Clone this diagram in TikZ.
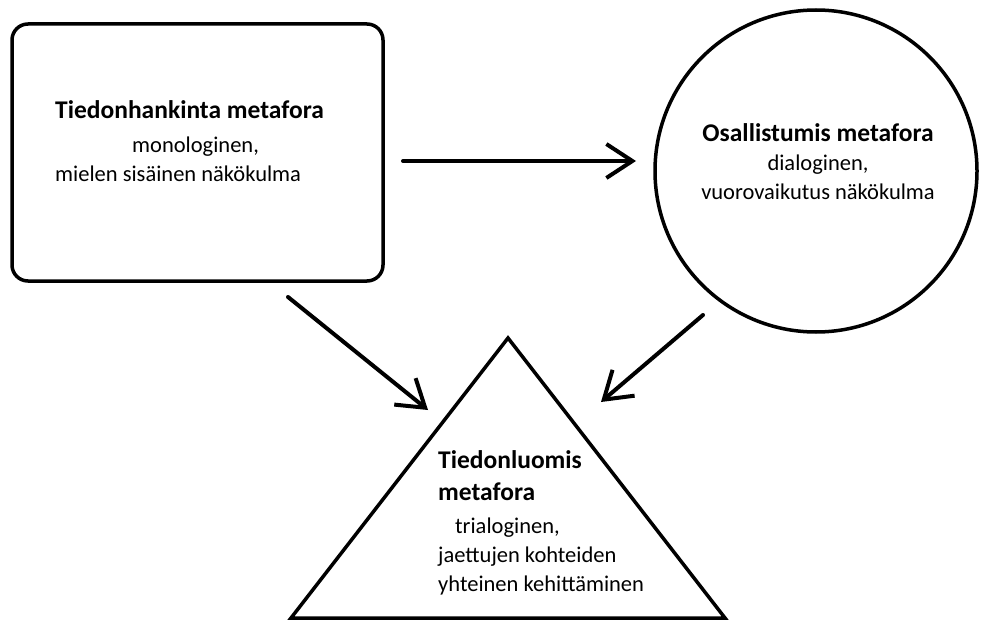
\documentclass[tikz,border=0pt]{standalone}
\usepackage{fontspec}
\setmainfont{Carlito}
\usetikzlibrary{arrows.meta,positioning,shapes.geometric}

\newcommand{\otsikko}[1]{{\fontsize{25.5}{30}\selectfont\bfseries #1}}

\tikzset{
  kuvio/.style={draw, line width=3.5pt},
  nuoli/.style={line width=4pt, line cap=round, line join=round, -{Straight Barb[length=26pt,width=34pt]}},
  teksti/.style={font=\fontsize{22.5}{29}\selectfont, inner sep=0pt},
}

\begin{document}
\begin{tikzpicture}[x=1pt,y=-1pt]
    \useasboundingbox (0,0) rectangle (982,623);

    % muodot
    \node[kuvio, rectangle, rounded corners=16pt, minimum width=371pt, minimum height=257pt] (hankinta) at (197.5,152.5) {};
    \node[kuvio, circle, minimum size=322pt] (osallistumis) at (816,171) {};
    \coordinate (huippu) at (508,338);
    \coordinate (vasen) at (291,618);
    \coordinate (oikea) at (725,618);
    \draw[kuvio] (huippu) -- (oikea) -- (vasen) -- cycle;

    % tekstit
    \node[teksti, align=left, anchor=north west] (hankintateksti) at (55,100) {\otsikko{Tiedonhankinta metafora}\\[5pt]\hspace*{77pt}monologinen,\\mielen sisäinen näkökulma};
    \node[teksti, align=center] (osallistumisteksti) at (818,162) {\otsikko{Osallistumis metafora}\\dialoginen,\\vuorovaikutus näkökulma};
    \node[teksti, align=left, anchor=north west] (luomisteksti) at (438,450) {\otsikko{Tiedonluomis}\\[3pt]\otsikko{metafora}\\[4pt]\hspace*{17pt}trialoginen,\\jaettujen kohteiden\\yhteinen kehittäminen};

    % nuolet
    \coordinate (n1a) at (403,161);
    \coordinate (n1b) at (636,161);
    \coordinate (n2a) at (288,297);
    \coordinate (n2b) at (428,410);
    \coordinate (n3a) at (703,315);
    \coordinate (n3b) at (601,402);
    \draw[nuoli] (n1a) -- (n1b);
    \draw[nuoli] (n2a) -- (n2b);
    \draw[nuoli] (n3a) -- (n3b);
\end{tikzpicture}
\end{document}
